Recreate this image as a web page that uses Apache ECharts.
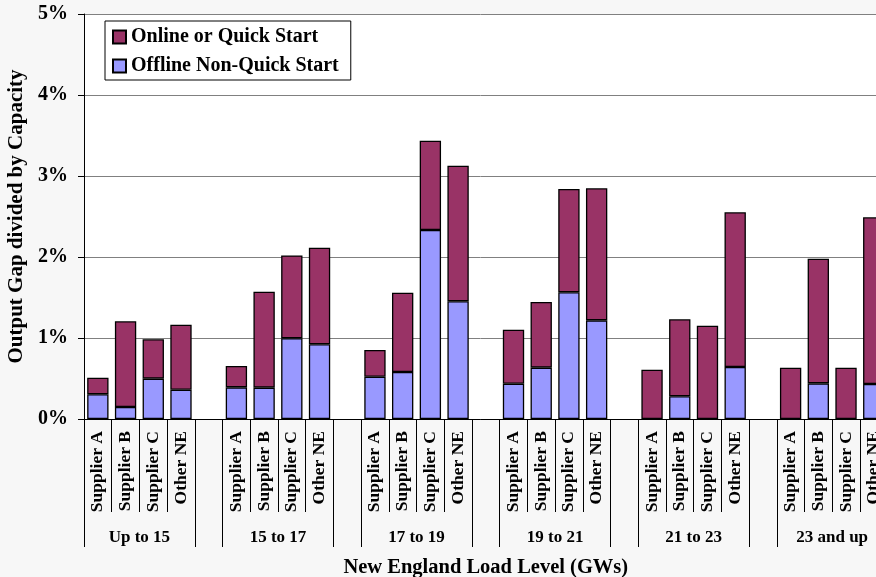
<!DOCTYPE html>
<html>
<head>
<meta charset="utf-8">
<script src="https://cdn.jsdelivr.net/npm/echarts@6/dist/echarts.min.js"></script>
<style>
html,body{margin:0;padding:0;background:#f7f7f7;}
#chart{width:876px;height:577px;}
</style>
</head>
<body>
<div id="chart"></div>
<script>
// Data (percent of capacity)
const suppliers = ['Supplier A', 'Supplier B', 'Supplier C', 'Other NE'];
const groups = ['Up to 15', '15 to 17', '17 to 19', '19 to 21', '21 to 23', '23 and up'];
// Offline Non-Quick Start (bottom segment), 4 suppliers per group
const offlineValues = [
  0.305, 0.148, 0.498, 0.362,
  0.391, 0.387, 0.996, 0.922,
  0.522, 0.580, 2.333, 1.453,
  0.436, 0.634, 1.564, 1.218,
  null,  0.280, null,  0.642,
  null,  0.440, null,  0.432
];
// Online or Quick Start (top segment)
const onlineValues = [
  0.205, 1.058, 0.486, 0.802,
  0.263, 1.185, 1.024, 1.193,
  0.330, 0.980, 1.103, 1.675,
  0.667, 0.810, 1.276, 1.630,
  0.609, 0.951, 1.152, 1.910,
  0.633, 1.539, 0.633, 2.058
];
const yTicks = [0, 1, 2, 3, 4, 5];

// Build category list with blank separators between groups
const categories = [];
const offline = [];
const online = [];
groups.forEach((g, gi) => {
  suppliers.forEach((s, si) => {
    categories.push(s);
    offline.push(offlineValues[gi * 4 + si]);
    online.push(onlineValues[gi * 4 + si]);
  });
  if (gi < groups.length - 1) {
    categories.push('');
    offline.push(null);
    online.push(null);
  }
});
const nSlots = categories.length; // 29
const groupCenters = groups.map((g, i) => i * 5 + 2);
const groupBounds = [];
groups.forEach((g, i) => { groupBounds.push(i * 5, i * 5 + 4); });

const FONT = '"Liberation Serif", "Times New Roman", serif';
const slotW = 27.71;

const chart = echarts.init(document.getElementById('chart'), null, {renderer: 'canvas'});
chart.setOption({
  backgroundColor: '#f7f7f7',
  animation: false,
  textStyle: {fontFamily: FONT},
  grid: {
    left: 84, top: 14, width: slotW * nSlots, height: 405,
    outerBoundsMode: 'none',
    containLabel: false,
    show: true, backgroundColor: '#ffffff', borderWidth: 0
  },
  legend: {
    orient: 'vertical',
    left: 105, top: 21,
    data: ['Online or Quick Start', 'Offline Non-Quick Start'],
    icon: 'rect',
    itemWidth: 13, itemHeight: 13,
    itemGap: 9,
    itemTextGap: 5,
    padding: [6, 12, 4, 7],
    backgroundColor: '#ffffff',
    borderColor: '#000000',
    borderWidth: 1,
    borderRadius: 0,
    textStyle: {fontFamily: FONT, fontWeight: 'bold', fontSize: 20, color: '#000', lineHeight: 20}
  },
  xAxis: [
    {
      type: 'category',
      data: categories,
      boundaryGap: true,
      name: 'New England Load Level (GWs)',
      nameLocation: 'middle',
      nameGap: 138,
      nameTextStyle: {fontFamily: FONT, fontWeight: 'bold', fontSize: 20.5, color: '#000'},
      axisLine: {show: true, lineStyle: {color: '#000', width: 1}},
      axisTick: {show: true, interval: 0, length: 93, lineStyle: {color: '#000', width: 1}},
      axisLabel: {
        interval: 0, rotate: 90, margin: 12,
        fontFamily: FONT, fontWeight: 'bold', fontSize: 17.5, color: '#000'
      },
      splitLine: {show: false}
    },
    {
      type: 'value',
      position: 'bottom',
      min: 0, max: nSlots,
      axisLine: {show: false},
      splitLine: {show: false},
      axisTick: {show: true, customValues: groupBounds, length: 128, lineStyle: {color: '#000', width: 1}},
      axisLabel: {
        customValues: groupCenters,
        margin: 110,
        fontFamily: FONT, fontWeight: 'bold', fontSize: 17, color: '#000',
        formatter: v => groups[Math.round((v - 2) / 5)]
      }
    }
  ],
  yAxis: {
    type: 'value',
    min: 0, max: 5, interval: 1,
    name: 'Output Gap divided by Capacity',
    nameLocation: 'middle',
    nameGap: 52,
    nameTextStyle: {fontFamily: FONT, fontWeight: 'bold', fontSize: 21, color: '#000'},
    axisLine: {show: true, lineStyle: {color: '#000', width: 1}},
    axisTick: {show: true, inside: false, length: 6, lineStyle: {color: '#000'}},
    axisLabel: {
      margin: 16,
      fontFamily: FONT, fontWeight: 'bold', fontSize: 20, color: '#000',
      formatter: v => v + '%'
    },
    splitLine: {show: true, lineStyle: {color: '#808080', width: 1}}
  },
  series: [
    {
      name: 'Offline Non-Quick Start',
      type: 'bar',
      stack: 'gap',
      xAxisIndex: 0,
      data: offline,
      barCategoryGap: '23%',
      itemStyle: {color: '#9999ff', borderColor: '#000', borderWidth: 1.3}
    },
    {
      name: 'Online or Quick Start',
      type: 'bar',
      stack: 'gap',
      xAxisIndex: 0,
      data: online,
      barCategoryGap: '23%',
      itemStyle: {color: '#993366', borderColor: '#000', borderWidth: 1.3}
    }
  ]
});
</script>
</body>
</html>
